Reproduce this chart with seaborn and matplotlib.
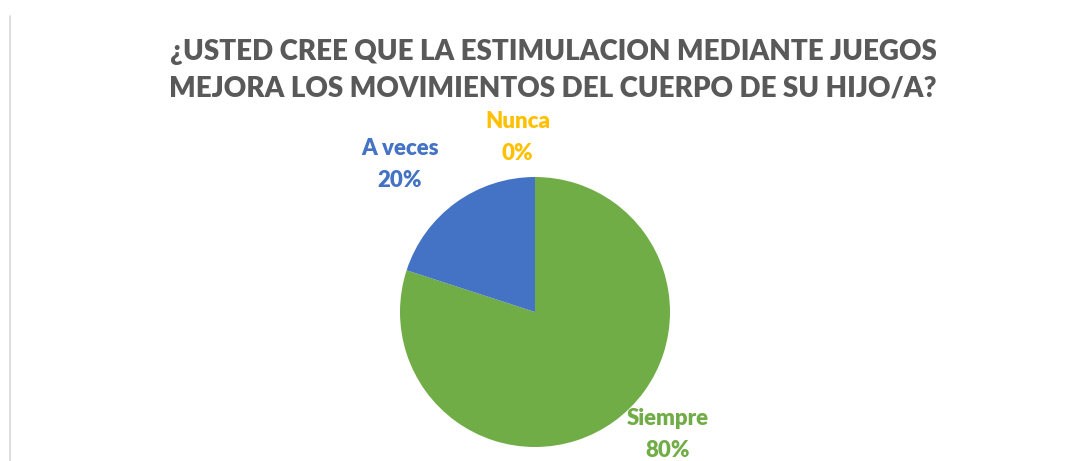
import matplotlib
matplotlib.use("Agg")
import matplotlib.pyplot as plt
from matplotlib.lines import Line2D
import seaborn as sns
import numpy as np

# Data
categories = ["Siempre", "A veces", "Nunca"]
values = [80, 20, 0]
colors = ["#70AD47", "#4472C4", "#FFC000"]
title = "¿USTED CREE QUE LA ESTIMULACION MEDIANTE JUEGOS\nMEJORA LOS MOVIMIENTOS DEL CUERPO DE SU HIJO/A?"

sns.set_theme(style="white")
plt.rcParams['font.family'] = ['Lato', 'DejaVu Sans']

W, H = 1083, 461
fig = plt.figure(figsize=(W / 100, H / 100), dpi=100)

# pie centre (535, 312) px, radius 135 px
cx, cy, r = 535, 312, 135
ax = fig.add_axes([(cx - r) / W, (H - cy - r) / H, 2 * r / W, 2 * r / H])
wedges, _ = ax.pie(values, colors=colors, startangle=90, counterclock=False,
                   radius=1, wedgeprops=dict(linewidth=0))
ax.set_xlim(-1, 1)
ax.set_ylim(-1, 1)
ax.set_aspect("equal")
ax.axis("off")

# label offsets (in pie radius units), Excel "best fit" style
offsets = {"Siempre": (0.98, -0.91), "A veces": (-1.0, 1.09), "Nunca": (-0.13, 1.29)}
total = sum(values)
for cat, val, col in zip(categories, values, colors):
    x, y = offsets[cat]
    ax.text(x, y, f"{cat}\n{round(100 * val / total)}%", color=col,
            fontsize=16, fontweight="heavy", ha="center", va="center",
            linespacing=1.65, clip_on=False)

fig.text(553 / W, 1 - 70 / H, title, ha="center", va="center",
         fontsize=20, fontweight="heavy", color="#595959", linespacing=1.5)

# thin chart border at left
fig.add_artist(Line2D([9.5 / W, 9.5 / W], [0, 1 - 16 / H], color="#D9D9D9", lw=1.2))

fig.savefig("out.png", dpi=100, facecolor="white")
